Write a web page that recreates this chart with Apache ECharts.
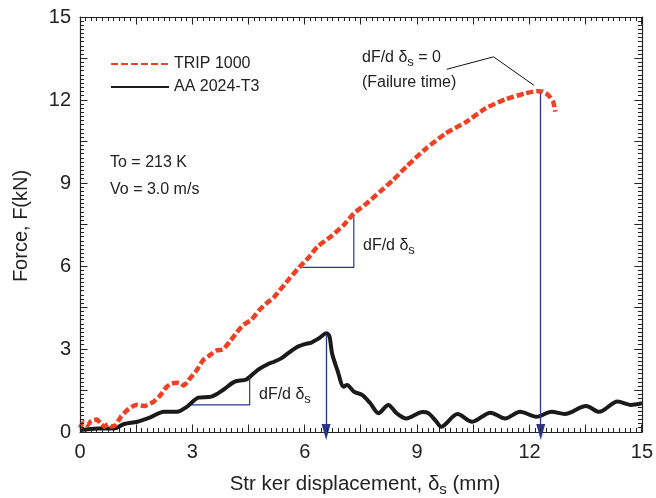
<!DOCTYPE html>
<html>
<head>
<meta charset="utf-8">
<script src="https://cdn.jsdelivr.net/npm/echarts@6/dist/echarts.min.js"></script>
<style>html,body{margin:0;padding:0;background:#fff}#c{width:656px;height:498px}</style>
</head>
<body>
<div id="c"></div>
<script>
const seriesNames = ['TRIP 1000', 'AA 2024-T3'];
const tripX = [0, 0.1, 0.2, 0.3, 0.45, 0.55, 0.65, 0.75, 0.85, 0.95, 1.09, 1.27, 1.49, 1.71, 1.97, 2.15, 2.32, 2.45, 2.59, 2.7, 2.76, 2.94, 3.12, 3.29, 3.47, 3.64, 3.82, 4.0, 4.17, 4.36, 4.57, 4.79, 4.96, 5.19, 5.5, 5.85, 6.1, 6.34, 6.69, 7.04, 7.31, 7.66, 8.01, 8.36, 8.71, 9.24, 9.77, 10.3, 10.83, 11.35, 11.88, 12.2, 12.35, 12.5, 12.63, 12.69];
const tripY = [0.15, 0.35, 0.25, 0.4, 0.45, 0.3, 0.2, 0.28, 0.2, 0.25, 0.55, 0.8, 0.98, 0.94, 1.1, 1.34, 1.64, 1.75, 1.78, 1.75, 1.68, 1.94, 2.24, 2.6, 2.78, 2.94, 2.99, 3.27, 3.57, 3.87, 4.05, 4.41, 4.63, 4.89, 5.4, 5.95, 6.3, 6.7, 7.06, 7.48, 7.9, 8.27, 8.69, 9.11, 9.59, 10.25, 10.8, 11.2, 11.7, 12.02, 12.24, 12.32, 12.3, 12.18, 11.94, 11.58];
const aaX = [0, 0.48, 0.92, 1.18, 1.53, 1.88, 2.24, 2.59, 2.85, 3.16, 3.51, 3.82, 4.13, 4.44, 4.74, 5.01, 5.18, 5.37, 5.55, 5.81, 6.07, 6.16, 6.38, 6.58, 6.66, 6.73, 6.87, 7.04, 7.13, 7.31, 7.53, 7.75, 7.97, 8.23, 8.45, 8.71, 9.15, 9.3, 9.5, 9.64, 10.08, 10.47, 10.96, 11.35, 11.75, 12.19, 12.59, 12.94, 13.51, 13.86, 14.35, 14.7, 15.0];
const aaY = [0.07, 0.13, 0.13, 0.29, 0.37, 0.53, 0.73, 0.73, 0.91, 1.24, 1.28, 1.52, 1.82, 1.9, 2.24, 2.45, 2.54, 2.66, 2.84, 3.08, 3.2, 3.22, 3.39, 3.57, 3.45, 2.84, 2.24, 1.64, 1.7, 1.46, 1.34, 1.04, 0.68, 0.98, 0.68, 0.49, 0.72, 0.68, 0.4, 0.19, 0.65, 0.37, 0.7, 0.49, 0.73, 0.55, 0.73, 0.65, 0.94, 0.73, 1.1, 0.98, 1.04];
// slope triangles
const slopeTripX = [5.94, 7.31, 7.31];
const slopeTripY = [5.95, 5.95, 7.87];
const slopeAaX = [2.98, 4.53, 4.53];
const slopeAaY = [0.98, 0.98, 2.0];
// arrows
const arrowX = [6.57, 12.3];
const arrowTop = [3.5, 12.25];
// leader line for "dF/d δs = 0"
const leaderX = [9.79, 11.04, 12.12];
const leaderY = [13.11, 13.56, 12.53];
// tick steps (both axes 0..15)
const majorStep = 1.5;
const minorPerMajor = 10;

const zip = (a, b) => a.map((v, i) => [v, b[i]]);
const FONT = 'Liberation Sans, Arial, sans-serif';
const TXT = '#222';
const AX = '#222';

// tick marks on all four sides
const tickMarks = [];
for (let i = 0; i <= 10 * minorPerMajor; i++) {
  tickMarks.push([Math.round(i * majorStep / minorPerMajor * 1000) / 1000, i % minorPerMajor === 0 ? 1 : 0]);
}

function mkAxis(type, pos, showLabel) {
  return {
    type: 'value', position: pos, min: 0, max: 15, interval: 3,
    axisLine: { show: true, onZero: false, lineStyle: { color: AX, width: 1.2 } },
    axisTick: { show: false },
    splitLine: { show: false },
    axisLabel: {
      show: showLabel, fontSize: 20, color: TXT, fontFamily: FONT,
      margin: type === 'x' ? 10 : 9
    }
  };
}

const chart = echarts.init(document.getElementById('c'), null, { renderer: 'canvas' });
const sub = { fontSize: 13, fontFamily: FONT, fill: TXT, padding: [9, 0, 0, 0] };
const snap = p => Math.round(p - 0.5) + 0.5;

chart.setOption({
  animation: false,
  backgroundColor: '#fff',
  grid: { left: 80, right: 8, top: 17, bottom: 66 },
  xAxis: [mkAxis('x', 'bottom', true), mkAxis('x', 'top', false)],
  yAxis: [mkAxis('y', 'left', true), mkAxis('y', 'right', false)],
  legend: {
    orient: 'vertical', left: 110, top: 56, padding: 0, itemWidth: 58, itemHeight: 14, itemGap: 7,
    data: seriesNames,
    itemStyle: { opacity: 0 },
    textStyle: { fontSize: 16, color: TXT, fontFamily: FONT }
  },
  series: [
    {
      name: 'ticks', type: 'custom', silent: true, z: 5, clip: false,
      data: tickMarks,
      renderItem: function (params, api) {
        const v = api.value(0);
        const len = api.value(1) ? 7.5 : 4;
        const b = api.coord([v, 0]), t = api.coord([v, 15]);
        const l = api.coord([0, v]), r = api.coord([15, v]);
        const st = { stroke: AX, lineWidth: 1 };
        const bx = snap(b[0]), tx = snap(t[0]), ly = snap(l[1]), ry = snap(r[1]);
        return {
          type: 'group',
          children: [
            { type: 'line', shape: { x1: bx, y1: b[1], x2: bx, y2: b[1] - len }, style: st },
            { type: 'line', shape: { x1: tx, y1: t[1], x2: tx, y2: t[1] + len }, style: st },
            { type: 'line', shape: { x1: l[0], y1: ly, x2: l[0] + len, y2: ly }, style: st },
            { type: 'line', shape: { x1: r[0], y1: ry, x2: r[0] - len, y2: ry }, style: st }
          ]
        };
      }
    },
    {
      name: seriesNames[1], type: 'line', data: zip(aaX, aaY), symbol: 'none', smooth: 0.3, z: 2,
      lineStyle: { color: '#1a1a1a', width: 4 }, itemStyle: { color: '#1a1a1a' }
    },
    {
      name: 'slopeAa', type: 'line', data: zip(slopeAaX, slopeAaY), symbol: 'none', z: 3,
      lineStyle: { color: '#2a3592', width: 1.2 }
    },
    {
      name: 'slopeTrip', type: 'line', data: zip(slopeTripX, slopeTripY), symbol: 'none', z: 3,
      lineStyle: { color: '#2a3592', width: 1.2 }
    },
    {
      name: 'leader', type: 'line', data: zip(leaderX, leaderY), symbol: 'none', z: 3,
      lineStyle: { color: '#111', width: 1 }
    },
    {
      name: 'arrows', type: 'line', data: [], z: 3,
      markLine: {
        silent: true, symbol: ['none', 'triangle'], symbolSize: [9, 16],
        label: { show: false },
        lineStyle: { color: '#2a3592', width: 1.3, type: 'solid' },
        data: arrowX.map((x, i) => [{ coord: [x, arrowTop[i]] }, { coord: [x, 0] }])
      }
    },
    {
      name: seriesNames[0], type: 'line', data: zip(tripX, tripY), symbol: 'none', smooth: 0.2, z: 4,
      lineStyle: { color: '#ee4023', width: 4.5, type: [7, 3] }, itemStyle: { color: '#ee4023' }
    }
  ],
  graphic: [
    { type: 'text', z: 10, style: { x: 110, y: 163, text: 'To = 213 K', fontSize: 16, fontFamily: FONT, fill: TXT, verticalAlign: 'middle' } },
    { type: 'text', z: 10, style: { x: 110, y: 190, text: 'Vo = 3.0 m/s', fontSize: 16, fontFamily: FONT, fill: TXT, verticalAlign: 'middle' } },
    { type: 'text', z: 10, style: { x: 362, y: 47, text: 'dF/d δ{s|s} = 0', fontSize: 16, fontFamily: FONT, fill: TXT, verticalAlign: 'top', rich: { s: sub } } },
    { type: 'text', z: 10, style: { x: 362, y: 83, text: '(Failure time)', fontSize: 16, fontFamily: FONT, fill: TXT, verticalAlign: 'middle' } },
    { type: 'text', z: 10, style: { x: 363, y: 235, text: 'dF/d δ{s|s}', fontSize: 16, fontFamily: FONT, fill: TXT, verticalAlign: 'top', rich: { s: sub } } },
    { type: 'text', z: 10, style: { x: 259, y: 384, text: 'dF/d δ{s|s}', fontSize: 16, fontFamily: FONT, fill: TXT, verticalAlign: 'top', rich: { s: sub } } },
    { type: 'text', z: 10, style: { x: 365, y: 471, text: 'Str ker displacement, δ{s|s} (mm)', fontSize: 20.5, fontFamily: FONT, fill: TXT, align: 'center', verticalAlign: 'top', rich: { s: { fontSize: 15, fontFamily: FONT, fill: TXT, padding: [11, 0, 0, 0] } } } },
    { type: 'text', z: 10, x: 21, y: 226, rotation: Math.PI / 2, style: { x: 0, y: 0, text: 'Force, F(kN)', fontSize: 20, fontFamily: FONT, fill: TXT, align: 'center', verticalAlign: 'middle' } }
  ]
});
</script>
</body>
</html>
